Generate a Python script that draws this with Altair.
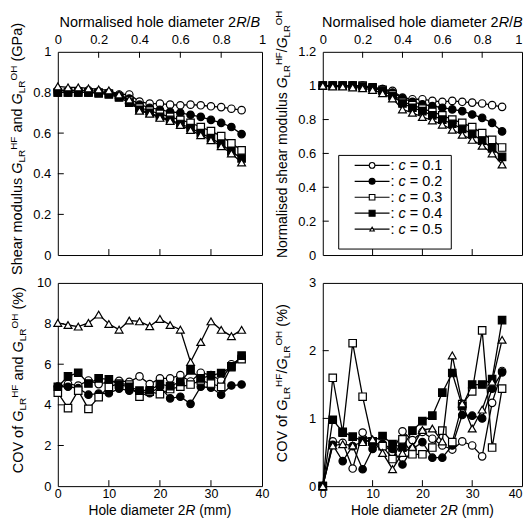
import altair as alt
import pandas as pd

# ---------------- data ----------------
hole_mm = [0, 2, 4, 6, 8, 10, 12, 14, 16, 18, 20, 22, 24, 26, 28, 30, 32, 34, 36]
c_labels = ["0.1", "0.2", "0.3", "0.4", "0.5"]

# shear modulus (GPa)
gpa_01 = [0.81, 0.81, 0.81, 0.81, 0.805, 0.80, 0.79, 0.79, 0.755, 0.745, 0.745, 0.74, 0.737, 0.74, 0.737, 0.732, 0.728, 0.72, 0.713]
gpa_02 = [0.80, 0.80, 0.80, 0.80, 0.80, 0.795, 0.785, 0.77, 0.74, 0.725, 0.715, 0.705, 0.70, 0.69, 0.68, 0.665, 0.65, 0.63, 0.595]
gpa_03 = [0.80, 0.80, 0.80, 0.80, 0.80, 0.795, 0.78, 0.76, 0.725, 0.71, 0.695, 0.68, 0.665, 0.65, 0.63, 0.61, 0.585, 0.55, 0.515]
gpa_04 = [0.80, 0.80, 0.80, 0.80, 0.795, 0.79, 0.775, 0.75, 0.715, 0.70, 0.68, 0.665, 0.645, 0.625, 0.60, 0.575, 0.545, 0.51, 0.475]
gpa_05 = [0.83, 0.825, 0.825, 0.82, 0.815, 0.81, 0.79, 0.765, 0.71, 0.695, 0.675, 0.66, 0.64, 0.615, 0.59, 0.565, 0.535, 0.50, 0.455]

# normalised shear modulus
nrm_01 = [1.0, 1.0, 1.0, 1.0, 0.995, 0.99, 0.98, 0.97, 0.93, 0.92, 0.92, 0.91, 0.905, 0.91, 0.905, 0.90, 0.895, 0.885, 0.875]
nrm_02 = [1.0, 1.0, 1.0, 1.0, 1.0, 0.99, 0.98, 0.96, 0.925, 0.905, 0.89, 0.88, 0.87, 0.86, 0.85, 0.83, 0.81, 0.78, 0.73]
nrm_03 = [1.0, 1.0, 1.0, 1.0, 1.0, 0.99, 0.975, 0.95, 0.905, 0.885, 0.865, 0.845, 0.825, 0.80, 0.78, 0.755, 0.72, 0.68, 0.635]
nrm_04 = [1.0, 1.0, 1.0, 1.0, 0.995, 0.985, 0.97, 0.94, 0.895, 0.87, 0.85, 0.825, 0.80, 0.775, 0.745, 0.715, 0.675, 0.63, 0.58]
nrm_05 = [1.0, 0.995, 0.995, 0.99, 0.985, 0.975, 0.955, 0.925, 0.86, 0.84, 0.815, 0.795, 0.77, 0.74, 0.71, 0.68, 0.645, 0.60, 0.535]

# COV of G (%)
covg_01 = [4.9, 5.03, 4.95, 5.2, 5.02, 5.13, 5.18, 5.13, 5.4, 5.02, 5.3, 5.3, 5.46, 5.15, 5.58, 5.46, 5.2, 6.0, 6.3]
covg_02 = [4.89, 4.89, 4.82, 4.5, 4.55, 4.57, 4.8, 4.7, 4.67, 4.57, 4.89, 4.32, 4.4, 4.05, 4.89, 4.85, 4.5, 4.95, 5.0]
covg_03 = [4.6, 3.84, 4.7, 3.8, 4.38, 4.89, 5.05, 5.0, 4.4, 4.65, 4.53, 4.78, 4.9, 5.0, 5.2, 5.05, 4.89, 5.9, 6.25]
covg_04 = [4.89, 5.4, 5.58, 5.05, 5.3, 5.25, 5.0, 4.89, 4.7, 4.72, 5.02, 4.92, 5.13, 5.7, 5.3, 5.45, 5.56, 5.86, 6.42]
covg_05 = [8.03, 7.93, 7.85, 8.03, 8.44, 7.98, 7.7, 8.15, 8.11, 7.87, 8.23, 7.93, 7.7, 6.11, 7.09, 8.11, 7.69, 7.38, 7.69]

# COV of normalised G (%)
covn_01 = [0, 0.66, 0.64, 0.26, 0.79, 0.62, 0.62, 0.5, 0.81, 0.68, 0.8, 0.7, 0.6, 0.54, 0.66, 0.6, 0.44, 1.23, 1.7]
covn_02 = [0, 0.61, 0.37, 0.59, 0.25, 0.55, 0.62, 0.55, 0.32, 0.55, 0.65, 0.42, 0.42, 0.6, 1.05, 1.04, 1.0, 1.44, 1.68]
covn_03 = [0, 1.6, 0.79, 2.11, 1.32, 0.66, 0.59, 0.4, 0.69, 0.47, 0.47, 0.57, 0.82, 0.65, 1.21, 1.4, 2.3, 0.57, 1.44]
covn_04 = [0, 0.98, 0.8, 0.73, 0.67, 0.66, 0.74, 0.62, 0.57, 0.82, 0.96, 1.04, 1.38, 1.67, 1.18, 1.5, 1.5, 1.58, 2.45]
covn_05 = [0, 0.6, 0.62, 0.6, 0.65, 0.69, 0.49, 0.25, 0.49, 0.58, 0.83, 0.85, 0.66, 1.93, 1.22, 0.85, 1.13, 1.54, 2.16]

top_norm_ticks = [0, 0.2, 0.4, 0.6, 0.8, 1]
mm_ticks = [0, 10, 20, 30, 40]
yt_gpa = [0, 0.2, 0.4, 0.6, 0.8, 1]
yt_nrm = [0, 0.2, 0.4, 0.6, 0.8, 1.0, 1.2]
yt_covg = [0, 2, 4, 6, 8, 10]
yt_covn = [0, 1, 2, 3]

# ---------------- styling ----------------
FONT = "Liberation Sans"
FS_LAB = 13
FS_T = 14.5
FS_S = 10
WL, WR, H = 205, 200, 204
TICK = 6

STY = {
    "0.1": ("circle", "white", 56),
    "0.2": ("circle", "black", 56),
    "0.3": ("square", "white", 56),
    "0.4": ("square", "black", 56),
    "0.5": ("triangle-up", "white", 62),
}
LEG_STY = {
    "0.1": ("circle", "white", 32),
    "0.2": ("circle", "black", 36),
    "0.3": ("square", "white", 32),
    "0.4": ("square", "black", 36),
    "0.5": ("triangle-up", "white", 20),
}

AW = {' ': 278, '(': 333, ')': 333, '/': 278, '%': 889, '.': 278, '=': 584, ':': 278,
      'A': 667, 'B': 667, 'C': 722, 'D': 722, 'E': 667, 'F': 611, 'G': 778, 'H': 722,
      'L': 556, 'N': 722, 'O': 778, 'P': 667, 'R': 722, 'S': 667, 'V': 667,
      'a': 556, 'c': 500, 'd': 556, 'e': 556, 'f': 278, 'h': 556, 'i': 222, 'l': 222,
      'm': 833, 'n': 556, 'o': 556, 'r': 333, 's': 500, 't': 278, 'u': 556}


def tw(s, fs):
    return sum(AW.get(ch, 556) for ch in s) * fs / 1000.0


def seg_font(kind, fsm, fss):
    if kind in ("sub", "sup"):
        return fss, "normal"
    if kind == "i":
        return fsm, "italic"
    return fsm, "normal"


def shift(kind):
    return {"sub": 3.0, "sup": -5.0}.get(kind, 0.0)


def one_text(s, x, y, fs, style, angle=0):
    return alt.Chart(pd.DataFrame({"t": [s]})).mark_text(
        align="left", baseline="alphabetic", angle=angle, font=FONT,
        fontSize=fs, fontStyle=style, color="black"
    ).encode(x=alt.value(x), y=alt.value(y), text="t:N")


def rich(segs, x, y, rotated=False, center=True, fsm=FS_T, fss=FS_S):
    total = 0.0
    for s, k in segs:
        total += tw(s, seg_font(k, fsm, fss)[0])
    layers = []
    cur = (x - total / 2.0 if center else x) if not rotated else (y + total / 2.0 if center else y)
    for s, k in segs:
        fs, st = seg_font(k, fsm, fss)
        lead = len(s) - len(s.lstrip(" "))
        trail = len(s) - len(s.rstrip(" "))
        core = s.strip(" ")
        adv_lead = lead * AW[' '] * fs / 1000.0
        adv_trail = trail * AW[' '] * fs / 1000.0
        if rotated:
            cur -= adv_lead
            layers.append(one_text(core, x + shift(k), cur, fs, st, angle=270))
            cur -= tw(core, fs) + adv_trail
        else:
            cur += adv_lead
            layers.append(one_text(core, cur, y + shift(k), fs, st))
            cur += tw(core, fs) + adv_trail
    return layers


def invisible(x, y):
    return alt.Chart(pd.DataFrame({"a": [0]})).mark_point(
        filled=True, size=1, opacity=0).encode(x=alt.value(x), y=alt.value(y))


def panel(series, ydom, yticks, top, W, ytitle_segs, ytitle_x, ytitle_y0, yt_fs=(FS_T, FS_S),
          legend=False, extra=None, right_col=False):
    xs = alt.Scale(domain=[0, 40], nice=False, zero=False)
    ys = alt.Scale(domain=ydom, nice=False, zero=False)
    if right_col:
        lab_align = {"condition": {"test": "datum.value >= 40", "value": "right"}, "value": "center"}
    else:
        lab_align = "center"
    if top:
        xaxis = alt.Axis(orient="top", values=[t * 40 for t in top_norm_ticks],
                         labelExpr="format(datum.value / 40, '~r')", ticks=False, domain=False,
                         grid=False, title=None, labelPadding=5, labelFontSize=FS_LAB,
                         labelFont=FONT, labelColor="black", labelOverlap=False, labelFlush=False,
                         labelAlign=lab_align)
    else:
        xaxis = alt.Axis(orient="bottom", values=mm_ticks, format="~r", ticks=False, domain=False,
                         grid=False, title=None, labelPadding=1, labelFontSize=12.5,
                         labelFont=FONT, labelColor="black", labelOverlap=False, labelFlush=False,
                         labelAlign=lab_align)
    yaxis = alt.Axis(values=yticks, format="~r", ticks=False, domain=False, grid=False, title=None,
                     labelPadding=7, labelFontSize=FS_LAB, labelFont=FONT, labelColor="black",
                     labelOverlap=False, labelFlush=False)
    X = alt.X("mm:Q", scale=xs, axis=xaxis)
    Y = alt.Y("v:Q", scale=ys, axis=yaxis)

    layers = []
    # inward ticks
    layers.append(alt.Chart(pd.DataFrame({"v": yticks[1:-1]})).mark_rule(color="black", strokeWidth=1)
                  .encode(y=Y, x=alt.value(0), x2=alt.value(TICK)))
    bt = pd.DataFrame({"mm": mm_ticks[1:-1]})
    layers.append(alt.Chart(bt).mark_rule(color="black", strokeWidth=1)
                  .encode(x=X, y=alt.value(H), y2=alt.value(H - TICK)))
    if top:
        tt = pd.DataFrame({"mm": [t * 40 for t in top_norm_ticks[1:-1]]})
        layers.append(alt.Chart(tt).mark_rule(color="black", strokeWidth=1)
                      .encode(x=X, y=alt.value(0), y2=alt.value(TICK)))

    for name, vals in zip(c_labels, series):
        shp, fill, size = STY[name]
        df = pd.DataFrame({"mm": hole_mm, "v": vals})
        base = alt.Chart(df).encode(x=X, y=Y)
        layers.append(base.mark_line(color="black", strokeWidth=1.3))
        layers.append(base.mark_point(shape=shp, size=size, filled=True, fill=fill,
                                      stroke="black", strokeWidth=1.2, opacity=1))

    if legend:
        bx0, bx1, by0, by1 = 16, 129, 104, 198
        layers.append(alt.Chart(pd.DataFrame({"a": [0]})).mark_rect(
            fill="white", stroke="black", strokeWidth=1).encode(
            x=alt.value(bx0), x2=alt.value(bx1), y=alt.value(by0), y2=alt.value(by1)))
        for i, name in enumerate(c_labels):
            ry = 114 + i * 16
            shp, fill, size = LEG_STY[name]
            d1 = pd.DataFrame({"a": [0]})
            layers.append(alt.Chart(d1).mark_rule(color="black", strokeWidth=1.2).encode(
                x=alt.value(32), x2=alt.value(67), y=alt.value(ry)))
            layers.append(alt.Chart(d1).mark_point(shape=shp, size=size, filled=True, fill=fill,
                                                   stroke="black", strokeWidth=1.1, opacity=1).encode(
                x=alt.value(49.5), y=alt.value(ry)))
            layers += rich([(": ", "n"), ("c", "i"), (" = " + name, "n")], 68, ry + 5, center=False)

    # y title
    layers += rich(ytitle_segs, ytitle_x, ytitle_y0, rotated=True, center=False,
                   fsm=yt_fs[0], fss=yt_fs[1])
    # x title
    if top:
        layers += rich([("Normalised hole diameter 2", "n"), ("R", "i"), ("/", "n"), ("B", "i")],
                       W / 2.0, -24.5)
    else:
        layers += rich([("Hole diameter 2", "n"), ("R", "i"), (" (mm)", "n")], W / 2.0, H + 28.5,
                       fsm=13.8)
    if extra is not None:
        layers.append(invisible(*extra))

    return alt.layer(*layers).properties(width=W, height=H)


GLR_HF = [("G", "i"), ("LR", "sub"), ("HF", "sup")]
GLR_OH = [("G", "i"), ("LR", "sub"), ("OH", "sup")]

# invisible bounds anchors: top-left one at (-70, -90) from the first plot,
# bottom-right one far outside; padding then crops the svg to 516 x 508.
tl = panel([gpa_01, gpa_02, gpa_03, gpa_04, gpa_05], [0, 1], yt_gpa, True, WL,
           [("Shear modulus ", "n")] + GLR_HF + [(" and ", "n")] + GLR_OH + [(" (GPa)", "n")],
           -36, 224, extra=(-69.5, -89.5))
tr = panel([nrm_01, nrm_02, nrm_03, nrm_04, nrm_05], [0, 1.2], yt_nrm, True, WR,
           [("Normalised shear modulus ", "n")] + GLR_HF + [("/", "n")] + GLR_OH,
           -36, 207, yt_fs=(14, 9.7), legend=True, right_col=True)
bl = panel([covg_01, covg_02, covg_03, covg_04, covg_05], [0, 10], yt_covg, False, WL,
           [("COV of ", "n")] + GLR_HF + [(" and ", "n")] + GLR_OH + [(" (%)", "n")],
           -35, 191)
br = panel([covn_01, covn_02, covn_03, covn_04, covn_05], [0, 3], yt_covn, False, WR,
           [("COV of ", "n")] + GLR_HF + [("/", "n")] + GLR_OH + [(" (%)", "n")],
           -36, 180, extra=(236.5, 277.5), right_col=True)

chart = alt.concat(tl, tr, bl, br, columns=2, spacing={"row": 28, "column": 61},
                   bounds="flush",
                   padding={"left": -21, "top": -48, "right": -36, "bottom": -44}
                   ).configure_view(stroke="black", strokeWidth=1)

chart.save("out.html", embed_options={"renderer": "svg", "actions": False})
